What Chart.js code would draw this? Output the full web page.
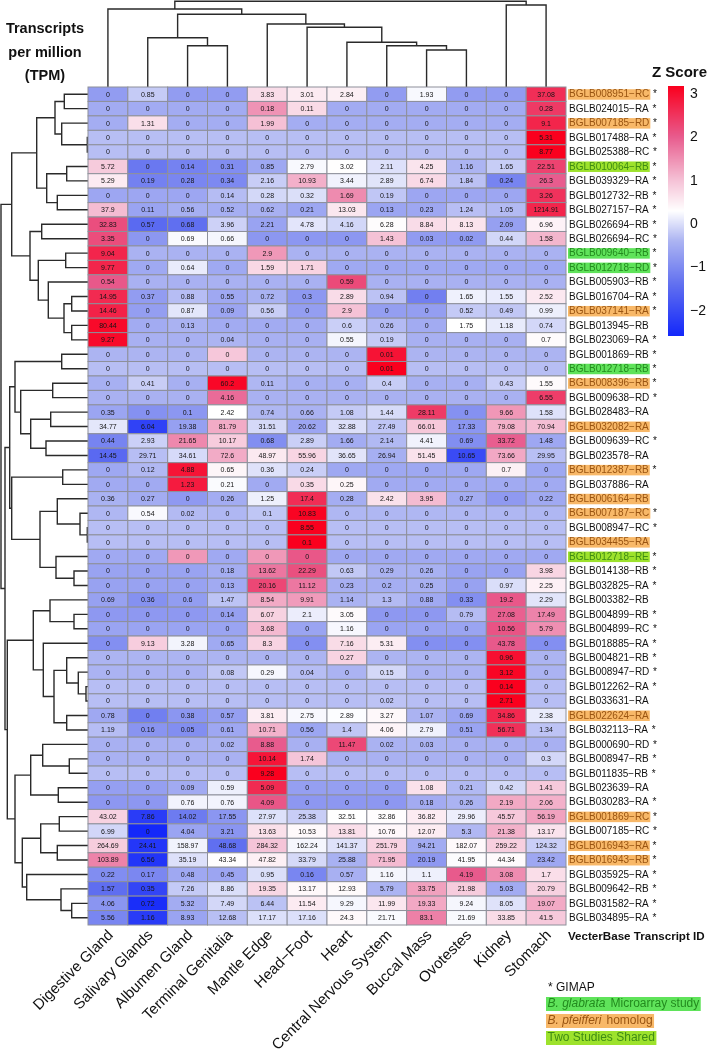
<!DOCTYPE html>
<html>
<head>
<meta charset="utf-8">
<script src="https://cdn.jsdelivr.net/npm/chart.js@4.4.1/dist/chart.umd.min.js"></script>
<style>
  html, body { margin: 0; padding: 0; background: #fff; }
  canvas { display: block; }
</style>
</head>
<body>
<canvas id="heat" width="709" height="1061"></canvas>
<script>
// ---- data ----
const tissues = ["Digestive Gland", "Salivary Glands", "Albumen Gland", "Terminal Genitalia",
  "Mantle Edge", "Head\u2212Foot", "Heart", "Central Nervous System", "Buccal Mass",
  "Ovotestes", "Kidney", "Stomach"];

const transcripts = ["BGLB008951\u2212RC", "BGLB024015\u2212RA", "BGLB007185\u2212RD", "BGLB017488\u2212RA",
  "BGLB025388\u2212RC", "BGLB010064\u2212RB", "BGLB039329\u2212RA", "BGLB012732\u2212RB", "BGLB027157\u2212RA",
  "BGLB026694\u2212RB", "BGLB026694\u2212RC", "BGLB009640\u2212RB", "BGLB012718\u2212RD", "BGLB005903\u2212RB",
  "BGLB016704\u2212RA", "BGLB037141\u2212RA", "BGLB013945\u2212RB", "BGLB023069\u2212RA", "BGLB001869\u2212RB",
  "BGLB012718\u2212RB", "BGLB008396\u2212RB", "BGLB009638\u2212RD", "BGLB028483\u2212RA", "BGLB032082\u2212RA",
  "BGLB009639\u2212RC", "BGLB023578\u2212RA", "BGLB012387\u2212RB", "BGLB037886\u2212RA", "BGLB006164\u2212RB",
  "BGLB007187\u2212RC", "BGLB008947\u2212RC", "BGLB034455\u2212RA", "BGLB012718\u2212RE", "BGLB014138\u2212RB",
  "BGLB032825\u2212RA", "BGLB003382\u2212RB", "BGLB004899\u2212RB", "BGLB004899\u2212RC", "BGLB018885\u2212RA",
  "BGLB004821\u2212RB", "BGLB008947\u2212RD", "BGLB012262\u2212RA", "BGLB033631\u2212RA", "BGLB022624\u2212RA",
  "BGLB032113\u2212RA", "BGLB000690\u2212RD", "BGLB008947\u2212RB", "BGLB011835\u2212RB", "BGLB023639\u2212RA",
  "BGLB030283\u2212RA", "BGLB001869\u2212RC", "BGLB007185\u2212RC", "BGLB016943\u2212RA", "BGLB016943\u2212RB",
  "BGLB035925\u2212RA", "BGLB009642\u2212RB", "BGLB031582\u2212RA", "BGLB034895\u2212RA"];

// 1 = GIMAP (asterisk)
const gimap = [1,1,1,1,1,1,1,1,1,1,1,1,1,1,1,1,0,1,1,1,1,1,0,0,1,0,1,0,0,1,1,0,1,1,1,0,1,1,1,
  1,1,1,0,0,1,1,1,1,0,1,1,1,1,1,1,1,1,1];

// o = B. pfeifferi homolog, m = B. glabrata microarray study, s = two studies shared
const tags = ["o","","o","","","s","","","","","","m","m","","","o","","","","m","o","","","o",
  "","","o","","o","o","","o","s","","","","","","","","","","","o","","","","","","","o","","o","o",
  "","","",""];

// TPM, columns in the order of `tissues`
const tpm = [
  [0, 0.85, 0, 0, 3.83, 3.01, 2.84, 0, 1.93, 0, 0, 37.08],
  [0, 0, 0, 0, 0.18, 0.11, 0, 0, 0, 0, 0, 0.28],
  [0, 1.31, 0, 0, 1.99, 0, 0, 0, 0, 0, 0, 9.1],
  [0, 0, 0, 0, 0, 0, 0, 0, 0, 0, 0, 5.31],
  [0, 0, 0, 0, 0, 0, 0, 0, 0, 0, 0, 8.77],
  [5.72, 0, 0.14, 0.31, 0.85, 2.79, 3.02, 2.11, 4.25, 1.16, 1.65, 22.51],
  [5.29, 0.19, 0.28, 0.34, 2.16, 10.93, 3.44, 2.89, 6.74, 1.84, 0.24, 26.3],
  [0, 0, 0, 0.14, 0.28, 0.32, 1.69, 0.19, 0, 0, 0, 3.26],
  [37.9, 0.11, 0.56, 0.52, 0.62, 0.21, 13.03, 0.13, 0.23, 1.24, 1.05, 1214.91],
  [32.83, 0.57, 0.68, 3.96, 2.21, 4.78, 4.16, 6.28, 8.84, 8.13, 2.09, 6.96],
  [3.35, 0, 0.69, 0.66, 0, 0, 0, 1.43, 0.03, 0.02, 0.44, 1.58],
  [9.04, 0, 0, 0, 2.9, 0, 0, 0, 0, 0, 0, 0],
  [9.77, 0, 0.64, 0, 1.59, 1.71, 0, 0, 0, 0, 0, 0],
  [0.54, 0, 0, 0, 0, 0, 0.59, 0, 0, 0, 0, 0],
  [14.95, 0.37, 0.88, 0.55, 0.72, 0.3, 2.89, 0.94, 0, 1.65, 1.55, 2.52],
  [14.46, 0, 0.87, 0.09, 0.56, 0, 2.9, 0, 0, 0.52, 0.49, 0.99],
  [80.44, 0, 0.13, 0, 0, 0, 0.6, 0.26, 0, 1.75, 1.18, 0.74],
  [9.27, 0, 0, 0.04, 0, 0, 0.55, 0.19, 0, 0, 0, 0.7],
  [0, 0, 0, 0.004, 0, 0, 0, 0.01, 0, 0, 0, 0],
  [0, 0, 0, 0, 0, 0, 0, 0.01, 0, 0, 0, 0],
  [0, 0.41, 0, 60.2, 0.11, 0, 0, 0.4, 0, 0, 0.43, 1.55],
  [0, 0, 0, 4.16, 0, 0, 0, 0, 0, 0, 0, 6.55],
  [0.35, 0, 0.1, 2.42, 0.74, 0.66, 1.08, 1.44, 28.11, 0, 9.66, 1.58],
  [34.77, 6.04, 19.38, 81.79, 31.51, 20.62, 32.88, 27.49, 66.01, 17.33, 79.08, 70.94],
  [0.44, 2.93, 21.65, 10.17, 0.68, 2.89, 1.66, 2.14, 4.41, 0.69, 33.72, 1.48],
  [14.45, 29.71, 34.61, 72.6, 48.97, 55.96, 36.65, 26.94, 51.45, 10.65, 73.66, 29.95],
  [0, 0.12, 4.88, 0.65, 0.36, 0.24, 0, 0, 0, 0, 0.7, 0],
  [0, 0, 1.23, 0.21, 0, 0.35, 0.25, 0, 0, 0, 0, 0],
  [0.36, 0.27, 0, 0.26, 1.25, 17.4, 0.28, 2.42, 3.95, 0.27, 0, 0.22],
  [0, 0.54, 0.02, 0, 0.1, 10.83, 0, 0, 0, 0, 0, 0],
  [0, 0, 0, 0, 0, 8.55, 0, 0, 0, 0, 0, 0],
  [0, 0, 0, 0, 0, 0.1, 0, 0, 0, 0, 0, 0],
  [0, 0, 0.003, 0, 0.003, 0.004, 0, 0, 0, 0, 0, 0],
  [0, 0, 0, 0.18, 13.62, 22.29, 0.63, 0.29, 0.26, 0, 0, 3.98],
  [0, 0, 0, 0.13, 20.16, 11.12, 0.23, 0.2, 0.25, 0, 0.97, 2.25],
  [0.69, 0.36, 0.6, 1.47, 8.54, 9.91, 1.14, 1.3, 0.88, 0.33, 19.2, 2.29],
  [0, 0, 0, 0.14, 6.07, 2.1, 3.05, 0, 0, 0.79, 27.08, 17.49],
  [0, 0, 0, 0, 3.68, 0, 1.16, 0, 0, 0, 10.56, 5.79],
  [0, 9.13, 3.28, 0.65, 8.3, 0, 7.16, 5.31, 0, 0, 43.78, 0],
  [0, 0, 0, 0, 0, 0, 0.27, 0, 0, 0, 0.96, 0],
  [0, 0, 0, 0.08, 0.29, 0.04, 0, 0.15, 0, 0, 3.12, 0],
  [0, 0, 0, 0, 0, 0, 0, 0, 0, 0, 0.14, 0],
  [0, 0, 0, 0, 0, 0, 0, 0.02, 0, 0, 2.71, 0],
  [0.78, 0, 0.38, 0.57, 3.81, 2.75, 2.89, 3.27, 1.07, 0.69, 34.86, 2.38],
  [1.19, 0.16, 0.05, 0.61, 10.71, 0.56, 1.4, 4.06, 2.79, 0.51, 56.71, 1.34],
  [0, 0, 0, 0.02, 8.88, 0, 11.47, 0.02, 0.03, 0, 0, 0],
  [0, 0, 0, 0, 10.14, 1.74, 0, 0, 0, 0, 0, 0.3],
  [0, 0, 0, 0, 9.28, 0, 0, 0, 0, 0, 0, 0],
  [0, 0, 0.09, 0.59, 5.09, 0, 0, 0, 1.08, 0.21, 0.42, 1.41],
  [0, 0, 0.76, 0.76, 4.09, 0, 0, 0, 0.18, 0.26, 2.19, 2.06],
  [43.02, 7.86, 14.02, 17.55, 27.97, 25.38, 32.51, 32.86, 36.82, 29.96, 45.57, 56.19],
  [6.99, 0, 4.04, 3.21, 13.63, 10.53, 13.81, 10.76, 12.07, 5.3, 21.38, 13.17],
  [264.69, 24.41, 158.97, 48.68, 284.32, 162.24, 141.37, 251.79, 94.21, 182.07, 259.22, 124.32],
  [103.89, 6.56, 35.19, 43.34, 47.82, 33.79, 25.88, 71.95, 20.19, 41.95, 44.34, 23.42],
  [0.22, 0.17, 0.48, 0.45, 0.95, 0.16, 0.57, 1.16, 1.1, 4.19, 3.08, 1.7],
  [1.57, 0.35, 7.26, 8.86, 19.35, 13.17, 12.93, 5.79, 33.75, 21.98, 5.03, 20.79],
  [4.06, 0.72, 5.32, 7.49, 6.44, 11.54, 9.29, 11.99, 19.33, 9.24, 8.05, 19.07],
  [5.56, 1.16, 8.93, 12.68, 17.17, 17.16, 24.3, 21.71, 83.1, 21.69, 33.85, 41.5]
];

// dendrograms: [mergeHeight, left, right], leaves are row / column indexes
const rowTree = [87,
  [76.3,
    [51.3,
      [33, [23.7, 0, 1], [26.3, 2, [0.7, 3, 4]]],
      [41.3, [21.3, 5, 6], [30.7, 7, 8]]],
    [58,
      [46.3, 9, 10],
      [49.7, [22.3, 11, 12], [39.7, 13, [24, [16.3, 14, 15], [16.3, 16, 17]]]]]],
  [83,
    [78.3,
      [73, [26.3, 18, 19], [67.3, [35.3, 20, 21], [57.3, [37.3, 22, 23], [42, 24, 25]]]],
      [76.3, [25.3, 26, 27],
        [48, [30.7, 28, [8, 29, [0.7, 30, 31]]], [32, 32, [14, 33, 34]]]]],
    [80.7,
      [54.7,
        [38, 35, [14, 36, 37]],
        [44.7, 38, [34, [21.3, 39, [9.7, 40, [2, 41, 42]]], [21.3, 43, 44]]]],
      [73,
        [57.3, [45.3, 45, [18.7, 46, 47]], [29.7, 48, 49]],
        [65.7,
          [47.3, [28.7, 50, 51], [30.7, 52, 53]],
          [61.3, 54, [27, 55, [16.3, 56, 57]]]]]]]];

const colTree = [85.8,
  [78, 0, [72.7, [49.3, 1, [41.3, 2, 3]],
    [63, 4, [59.7, 5, [44.7, 6, [41.3, 7, [37, 8, 9]]]]]]],
  [82, 10, 11]];

const keyTicks = [3, 2, 1, 0, -1, -2];

// ---- layout ----
const W = 709, H = 1061;
const pad = { left: 88, right: 143, top: 87, bottom: 136 };
const chartW = W - pad.left - pad.right;
const chartH = H - pad.top - pad.bottom;
const FONT = '"Liberation Sans", Arial, Helvetica, sans-serif';

// row z-scores of log(TPM + 1)
const zRows = tpm.map(row => {
  const l = row.map(v => Math.log(v + 1));
  const m = l.reduce((a, b) => a + b, 0) / l.length;
  const sd = Math.sqrt(l.reduce((a, b) => a + (b - m) * (b - m), 0) / (l.length - 1));
  return l.map(v => (sd > 0 ? (v - m) / sd : 0));
});
const allZ = zRows.flat();
const zLo = Math.min(...allZ), zHi = Math.max(...allZ);

const stops = [
  [0.0, [20, 40, 250]],
  [0.2, [95, 110, 240]],
  [0.38, [172, 180, 242]],
  [0.5, [255, 255, 255]],
  [0.62, [245, 195, 215]],
  [0.8, [232, 90, 140]],
  [1.0, [250, 0, 30]]
];
function heatColor(z) {
  let s = (z - zLo) / (zHi - zLo);
  s = Math.max(0, Math.min(1, s));
  for (let i = 1; i < stops.length; i++) {
    if (s <= stops[i][0]) {
      const [s0, c0] = stops[i - 1], [s1, c1] = stops[i];
      const t = (s - s0) / (s1 - s0);
      const c = c0.map((v, k) => Math.round(v + (c1[k] - v) * t));
      return `rgb(${c[0]},${c[1]},${c[2]})`;
    }
  }
  return "rgb(250,0,30)";
}

// tree -> polyline points with gaps
function treePoints(tree, toPoint) {
  const out = [];
  (function walk(node) {
    if (typeof node === "number") return { pos: node, h: 0 };
    const [h, a, b] = node;
    const A = walk(a), B = walk(b);
    out.push(toPoint(A.pos, A.h), toPoint(A.pos, h), toPoint(B.pos, h), toPoint(B.pos, B.h), { x: null, y: null });
    return { pos: (A.pos + B.pos) / 2, h };
  })(tree);
  return out;
}
const rowTreePoints = treePoints(rowTree, (pos, h) => ({ x: -h, y: pos }));
const colTreePoints = treePoints(colTree, (pos, h) => ({ x: pos, y: -h }));

const tagFill = { o: "#f8b868", m: "#5fe35a", s: "#9de22c" };
const tagText = { o: "#9a5512", m: "#238b1e", s: "#3f8c14" };

function fmt(v) { return String(+v.toFixed(2)); }

const heatmapPlugin = {
  id: "heatmap",
  afterDraw(chart) {
    const { ctx } = chart;
    const x = chart.scales.x, y = chart.scales.y;
    ctx.save();

    // cells
    ctx.textAlign = "center";
    ctx.textBaseline = "middle";
    ctx.font = `7px ${FONT}`;
    tpm.forEach((row, r) => {
      const y0 = y.getPixelForValue(r - 0.5), y1 = y.getPixelForValue(r + 0.5);
      row.forEach((v, c) => {
        const x0 = x.getPixelForValue(c - 0.5), x1 = x.getPixelForValue(c + 0.5);
        ctx.fillStyle = heatColor(zRows[r][c]);
        ctx.fillRect(x0, y0, x1 - x0, y1 - y0);
        ctx.strokeStyle = "#8e909a";
        ctx.lineWidth = 1;
        ctx.strokeRect(x0, y0, x1 - x0, y1 - y0);
        ctx.fillStyle = "#151515";
        ctx.fillText(fmt(v), (x0 + x1) / 2, (y0 + y1) / 2 + 0.5);
      });
    });

    // row labels
    ctx.textAlign = "left";
    ctx.font = `10px ${FONT}`;
    const lx = x.right + 3;
    transcripts.forEach((lab, r) => {
      const cy = y.getPixelForValue(r);
      const w = ctx.measureText(lab).width;
      if (tags[r]) {
        ctx.fillStyle = tagFill[tags[r]];
        ctx.fillRect(lx - 1, cy - 5, w + 2, 10.5);
        ctx.fillStyle = tagText[tags[r]];
      } else {
        ctx.fillStyle = "#111";
      }
      ctx.fillText(lab, lx, cy + 0.5);
      if (gimap[r]) {
        ctx.fillStyle = "#111";
        ctx.fillText(" *", lx + w + 1, cy + 0.5);
      }
    });

    // column labels
    ctx.font = `15px ${FONT}`;
    ctx.fillStyle = "#111";
    ctx.textAlign = "right";
    tissues.forEach((lab, c) => {
      ctx.save();
      ctx.translate(x.getPixelForValue(c) + 3, y.bottom + 8);
      ctx.rotate(-Math.PI / 4);
      ctx.fillText(lab, 0, 0);
      ctx.restore();
    });

    // headings
    ctx.textAlign = "center";
    ctx.font = `bold 14.5px ${FONT}`;
    ["Transcripts", "per million", "(TPM)"].forEach((t, i) => ctx.fillText(t, 45, 29 + i * 23.5));
    ctx.textAlign = "left";
    ctx.font = `bold 11.6px ${FONT}`;
    ctx.fillText("VecterBase Transcript ID", lx - 1, y.bottom + 12);

    // colour key
    const keyX = 668, keyW = 16, keyTop3 = 94, keyStep = 43.4;
    const kp = v => keyTop3 + (3 - v) * keyStep;
    ctx.font = `bold 15px ${FONT}`;
    ctx.fillText("Z Score", 652, 73);
    for (let py = Math.floor(kp(zHi)); py < kp(zLo); py++) {
      ctx.fillStyle = heatColor(3 - (py + 0.5 - keyTop3) / keyStep);
      ctx.fillRect(keyX, py, keyW, 1);
    }
    ctx.fillStyle = "#111";
    ctx.font = `14px ${FONT}`;
    keyTicks.forEach(t => ctx.fillText(t < 0 ? "\u2212" + Math.abs(t) : String(t), 690, kp(t)));

    // legend
    const gx = 546;
    ctx.font = `12px ${FONT}`;
    ctx.fillText("* GIMAP", gx + 2, 988);
    const legend = [
      ["m", "B. glabrata", "Microarray study", 1004],
      ["o", "B. pfeifferi", "homolog", 1021],
      ["s", "", "Two Studies Shared", 1038]
    ];
    legend.forEach(([k, it, rest, ly]) => {
      ctx.font = `italic 12px ${FONT}`;
      const wi = it ? ctx.measureText(it).width + 5 : 0;
      ctx.font = `12px ${FONT}`;
      const wr = ctx.measureText(rest).width;
      ctx.fillStyle = tagFill[k];
      ctx.fillRect(gx, ly - 7, wi + wr + 3, 14);
      ctx.fillStyle = tagText[k];
      if (it) {
        ctx.font = `italic 12px ${FONT}`;
        ctx.fillText(it, gx + 1.5, ly);
      }
      ctx.font = `12px ${FONT}`;
      ctx.fillText(rest, gx + 1.5 + wi, ly);
    });

    ctx.restore();
  }
};

const treeStyle = {
  showLine: true, pointRadius: 0, pointHoverRadius: 0, borderColor: "#2a2a2a",
  borderWidth: 1.4, tension: 0, fill: false, clip: false, spanGaps: false
};

new Chart(document.getElementById("heat"), {
  type: "scatter",
  data: {
    datasets: [
      { label: "transcript tree", data: rowTreePoints, xAxisID: "dx", yAxisID: "y", ...treeStyle },
      { label: "tissue tree", data: colTreePoints, xAxisID: "x", yAxisID: "dy", ...treeStyle }
    ]
  },
  options: {
    responsive: false,
    animation: false,
    events: [],
    layout: { padding: pad },
    plugins: { legend: { display: false }, tooltip: { enabled: false }, title: { display: false } },
    scales: {
      x: { type: "linear", min: -0.5, max: tissues.length - 0.5, display: false },
      y: { type: "linear", min: -0.5, max: transcripts.length - 0.5, reverse: true, display: false },
      dx: { type: "linear", axis: "x", min: 0, max: chartW, display: false },
      dy: { type: "linear", axis: "y", min: 0, max: chartH, reverse: true, display: false }
    }
  },
  plugins: [heatmapPlugin]
});
</script>
</body>
</html>
